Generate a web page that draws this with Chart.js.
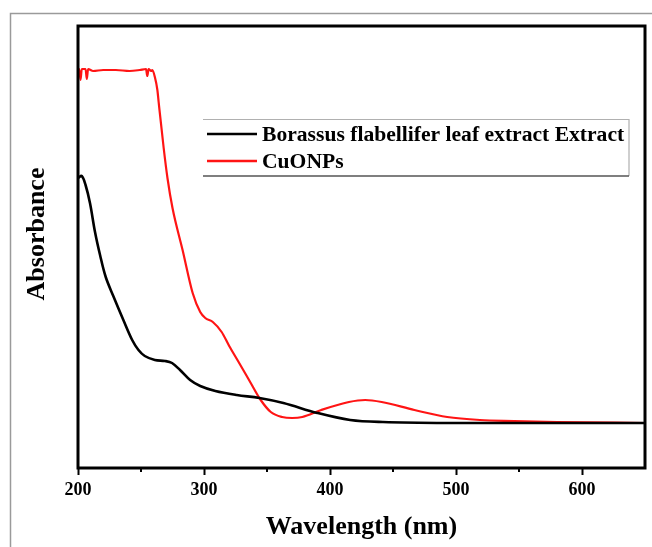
<!DOCTYPE html>
<html>
<head>
<meta charset="utf-8">
<script src="https://cdn.jsdelivr.net/npm/chart.js@4.4.1/dist/chart.umd.min.js"></script>
<style>
  html, body { margin: 0; padding: 0; background: #ffffff; }
  #wrap { width: 652px; height: 547px; position: relative; }
</style>
</head>
<body>
<div id="wrap"><canvas id="c" width="652" height="547"></canvas></div>
<script>
// ---- data ----
const seriesLabels = ["Borassus flabellifer leaf extract Extract", "CuONPs"];
const xTickValues = [200, 300, 400, 500, 600];
const xMinorTicks = [250, 350, 450, 550];
const xTitle = "Wavelength (nm)";
const yTitle = "Absorbance";

const extractX = [200,203,206,209.5,213.5,217.5,222,228,236,243,248,253,261,269,274.6,281,289,297,309,326,344,363,390,416,442,495,550,600,650];
const extractY = [2.90,2.92,2.83,2.65,2.36,2.13,1.91,1.72,1.48,1.28,1.18,1.12,1.08,1.07,1.05,0.98,0.88,0.82,0.77,0.73,0.70,0.65,0.55,0.48,0.46,0.45,0.45,0.45,0.45];

const cuonpX = [200,201,202,203,206,207,208,212,220,230,241,249,254,255,256,258,259,261,263,264,268,271,275,283,291,297,301,307,314,320,327,333,338,345,353,362,370,378,393,415,428,441,467,493,519,546,580,650];
const cuonpY = [3.99,3.99,3.88,3.99,3.99,3.89,3.99,3.97,3.98,3.98,3.97,3.98,3.99,3.92,3.99,3.97,3.98,3.91,3.78,3.66,3.20,2.90,2.60,2.18,1.75,1.56,1.50,1.46,1.36,1.22,1.07,0.94,0.83,0.68,0.56,0.51,0.50,0.51,0.58,0.66,0.68,0.66,0.58,0.51,0.48,0.47,0.46,0.45];

const SERIF = "'Liberation Serif', 'Times New Roman', serif";

function pts(xs, ys) { return xs.map((x, i) => ({ x: x, y: ys[i] })); }

const decor = {
  id: 'decor',
  beforeDraw(chart) {
    const ctx = chart.ctx;
    ctx.save();
    ctx.fillStyle = '#ffffff';
    ctx.fillRect(0, 0, chart.width, chart.height);
    ctx.strokeStyle = '#9a9a9a';
    ctx.lineWidth = 1.5;
    ctx.strokeRect(10.5, 13.5, 800, 800);
    ctx.restore();
  },
  afterDraw(chart) {
    const ctx = chart.ctx;
    const a = chart.chartArea;
    const xs = chart.scales.x;
    ctx.save();
    // frame
    ctx.strokeStyle = '#000';
    ctx.lineWidth = 3;
    ctx.strokeRect(a.left, a.top, a.right - a.left, a.bottom - a.top);
    // minor ticks
    ctx.lineWidth = 2;
    xMinorTicks.forEach(v => {
      const px = xs.getPixelForValue(v);
      ctx.beginPath();
      ctx.moveTo(px, a.bottom);
      ctx.lineTo(px, a.bottom + 4);
      ctx.stroke();
    });
    // y title
    ctx.fillStyle = '#000';
    ctx.font = "bold 26px " + SERIF;
    ctx.textAlign = 'center';
    ctx.textBaseline = 'middle';
    ctx.translate(37, 234);
    ctx.rotate(-Math.PI / 2);
    ctx.fillText(yTitle, 0, 0);
    ctx.setTransform(1, 0, 0, 1, 0, 0);
    // legend box
    const lx = 203, ly = 119, lw = 426, lh = 57;
    ctx.lineWidth = 1.2;
    ctx.strokeStyle = '#b0b0b0';
    ctx.beginPath();
    ctx.moveTo(lx, ly + 0.5); ctx.lineTo(lx + lw, ly + 0.5);
    ctx.lineTo(lx + lw, ly + lh);
    ctx.stroke();
    ctx.strokeStyle = '#555';
    ctx.lineWidth = 1.5;
    ctx.beginPath();
    ctx.moveTo(lx, ly + lh); ctx.lineTo(lx + lw, ly + lh);
    ctx.stroke();
    // legend entries
    ctx.font = "bold 21.6px " + SERIF;
    ctx.textAlign = 'left';
    ctx.textBaseline = 'middle';
    chart.data.datasets.forEach((ds, i) => {
      const yy = 134 + i * 27;
      ctx.strokeStyle = ds.borderColor;
      ctx.lineWidth = 2.5;
      ctx.beginPath();
      ctx.moveTo(207, yy); ctx.lineTo(257, yy);
      ctx.stroke();
      ctx.fillStyle = '#000';
      ctx.fillText(ds.label, 262, yy + 1);
    });
    ctx.restore();
  }
};

new Chart(document.getElementById('c'), {
  type: 'line',
  data: {
    datasets: [
      { label: seriesLabels[0], data: pts(extractX, extractY), borderColor: '#000000', borderWidth: 2.6,
        pointRadius: 0, tension: 0.35, fill: false },
      { label: seriesLabels[1], data: pts(cuonpX, cuonpY), borderColor: '#ff1414', borderWidth: 2.2,
        pointRadius: 0, cubicInterpolationMode: 'monotone', fill: false }
    ]
  },
  options: {
    responsive: false,
    animation: false,
    events: [],
    layout: { padding: { top: 26, right: 7, left: 0, bottom: 0 } },
    plugins: { legend: { display: false }, tooltip: { enabled: false } },
    scales: {
      x: {
        type: 'linear', min: 200, max: 650,
        afterFit(s) { s.height = 79; },
        afterBuildTicks(s) { s.ticks = xTickValues.map(v => ({ value: v })); },
        ticks: { color: '#000', font: { family: SERIF, size: 18, weight: 'bold' }, padding: 5, maxRotation: 0,
                 callback: v => String(v) },
        grid: { drawOnChartArea: false, drawTicks: true, tickLength: 7, tickWidth: 2, tickColor: '#000' },
        border: { display: false },
        title: { display: true, text: xTitle, color: '#000', font: { family: SERIF, size: 26, weight: 'bold' },
                 padding: { top: 0, bottom: 4 } }
      },
      y: {
        type: 'linear', min: 0, max: 4.42,
        afterFit(s) { s.width = 78; },
        ticks: { display: false },
        grid: { display: false },
        border: { display: false }
      }
    }
  },
  plugins: [decor]
});
</script>
</body>
</html>
